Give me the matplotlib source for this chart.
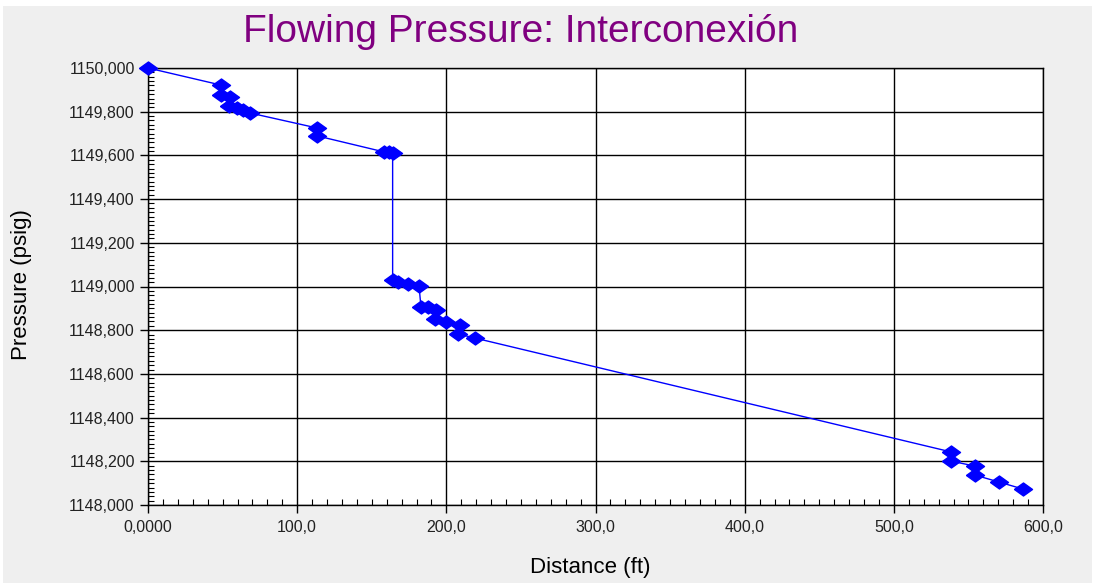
import numpy as np
import matplotlib
matplotlib.use("Agg")
import matplotlib.pyplot as plt
from matplotlib.patches import Rectangle
from matplotlib.ticker import MultipleLocator

# distance (ft) and flowing pressure (psig)
distance = [0.0, 48.9, 48.9, 55.0, 54.3, 59.7, 63.7, 68.4, 113.6, 113.6,
            158.2, 161.6, 164.0, 164.0, 167.6, 174.3, 181.7, 183.0, 187.7,
            193.1, 192.4, 199.8, 209.2, 207.8, 219.2, 538.3, 538.3, 554.4,
            554.4, 570.5, 586.6]
pressure = [1150000, 1149922, 1149876, 1149867, 1149828, 1149817, 1149808,
            1149794, 1149725, 1149689, 1149616, 1149616, 1149611, 1149030,
            1149021, 1149011, 1149002, 1148906, 1148906, 1148892, 1148851,
            1148838, 1148824, 1148783, 1148764, 1148243, 1148201, 1148178,
            1148137, 1148105, 1148073]

x_ticks = [0, 100, 200, 300, 400, 500, 600]
x_labels = ['0,0000', '100,0', '200,0', '300,0', '400,0', '500,0', '600,0']
y_ticks = [1148000, 1148200, 1148400, 1148600, 1148800, 1149000,
           1149200, 1149400, 1149600, 1149800, 1150000]
y_labels = ['1148,000', '1148,200', '1148,400', '1148,600', '1148,800',
            '1149,000', '1149,200', '1149,400', '1149,600', '1149,800',
            '1150,000']

plt.rcParams['font.family'] = ['Liberation Sans', 'DejaVu Sans']

fig = plt.figure(figsize=(10.95, 5.85), dpi=100, facecolor='white')
fig.patches.append(Rectangle((3 / 1095, 0.004), 1 - 6 / 1095, 1 - 6 / 585 - 0.004,
                             transform=fig.transFigure, facecolor='#efefef',
                             edgecolor='none', zorder=-10))

ax = fig.add_axes([148 / 1095, 1 - 505 / 585, 895 / 1095, 437 / 585])
ax.set_facecolor('white')

diamond = [(-1, 0), (0, 0.72), (1, 0), (0, -0.72), (-1, 0)]
ax.plot(distance, pressure, color='#0000ff', lw=1, marker=diamond,
        markersize=13, markerfacecolor='#0000ff', markeredgecolor='#0000ff',
        clip_on=False, zorder=5)

ax.set_xlim(0, 600)
ax.set_ylim(1148000, 1150000)
ax.set_xticks(x_ticks)
ax.set_xticklabels(x_labels)
ax.set_yticks(y_ticks)
ax.set_yticklabels(y_labels)
ax.xaxis.set_minor_locator(MultipleLocator(10))
ax.yaxis.set_minor_locator(MultipleLocator(20))
ax.tick_params(which='major', direction='out', length=6, width=1,
               labelsize=11.5, colors='black', labelcolor='#222222')
ax.tick_params(axis='x', which='major', pad=5)
ax.tick_params(which='minor', direction='in', length=4, width=0.8)
ax.grid(True, which='major', color='black', lw=1)
for s in ax.spines.values():
    s.set_color('black')
    s.set_linewidth(1)

fig.text(590 / 1095, 1 - 573 / 585, 'Distance (ft)', fontsize=16,
         ha='center', va='baseline')
fig.text(22 / 1095, 1 - 285 / 585, 'Pressure (psig)', fontsize=16,
         rotation=90, ha='center', va='center')
fig.text(521 / 1095, 1 - 42 / 585, 'Flowing Pressure: Interconexión',
         color='#800080', fontsize=28, ha='center', va='baseline')

fig.savefig('out.png', dpi=100, facecolor=fig.get_facecolor())
